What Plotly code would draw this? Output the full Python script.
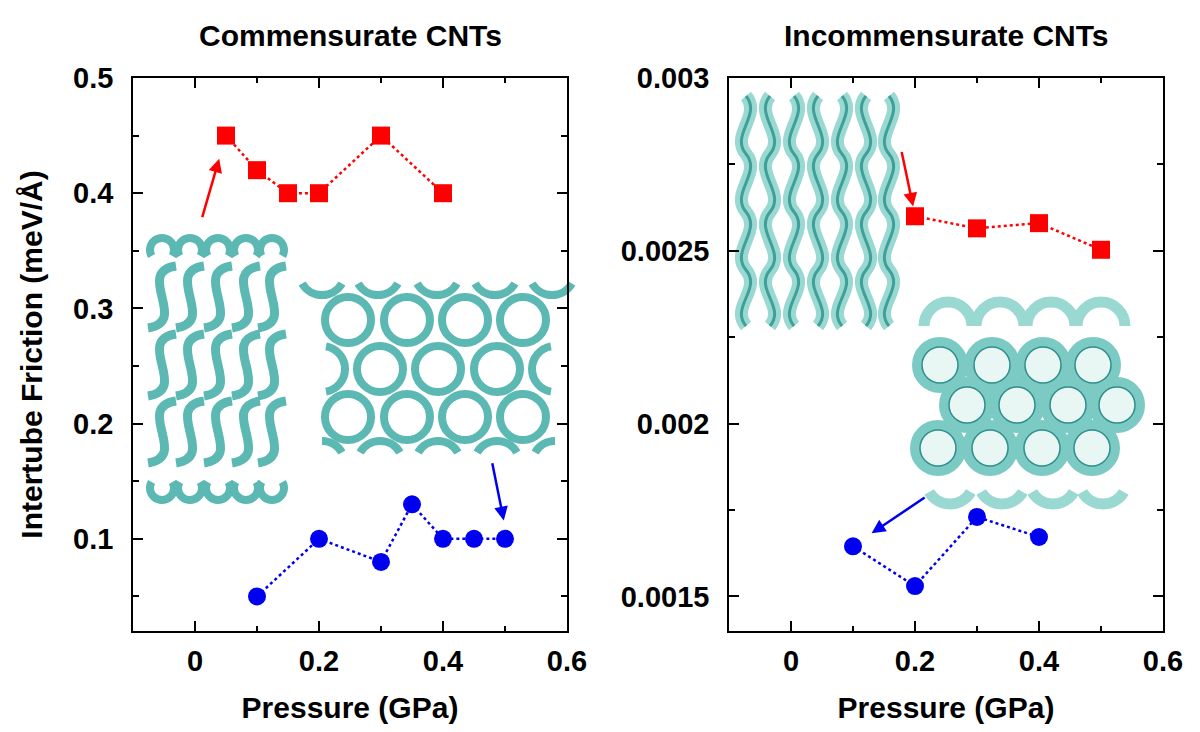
import math
from plotly.subplots import make_subplots
import plotly.graph_objects as go

# ---- data ----
comm_sq_p = [0.05, 0.1, 0.15, 0.2, 0.3, 0.4]
comm_sq_f = [0.45, 0.42, 0.40, 0.40, 0.45, 0.40]
comm_ci_p = [0.1, 0.2, 0.3, 0.35, 0.4, 0.45, 0.5]
comm_ci_f = [0.05, 0.10, 0.08, 0.13, 0.10, 0.10, 0.10]

inc_sq_p = [0.2, 0.3, 0.4, 0.5]
inc_sq_f = [0.00260, 0.002565, 0.00258, 0.002503]
inc_ci_p = [0.1, 0.2, 0.3, 0.4]
inc_ci_f = [0.001645, 0.00153, 0.00173, 0.001672]

panel_titles = ["Commensurate CNTs", "Incommensurate CNTs"]
x_title = "Pressure (GPa)"
y_title = "Intertube Friction (meV/Å)"

RED = "#ff0000"
BLUE = "#0000f0"
TEAL = "#5cb8b2"
FONT = "Liberation Sans"

# ---- page geometry (pixels); the page body adds an 8px margin ----
OFF = 8
W, H = 1200 - OFF, 732 - OFF
ML, MR, MT, MB = 133 - OFF, 37, 78 - OFF, 101
PANEL_X0 = {"x": 133, "x2": 729}
PW, PH = 434, 553
PBOT = 78 + PH

fig = make_subplots(rows=1, cols=2)

fig.add_trace(go.Scatter(x=comm_sq_p, y=comm_sq_f, mode="lines+markers",
                         line=dict(color=RED, width=2.5, dash="dot"),
                         marker=dict(symbol="square", size=18, color=RED)), 1, 1)
fig.add_trace(go.Scatter(x=comm_ci_p, y=comm_ci_f, mode="lines+markers",
                         line=dict(color=BLUE, width=2.5, dash="dot"),
                         marker=dict(symbol="circle", size=18, color=BLUE)), 1, 1)
fig.add_trace(go.Scatter(x=inc_sq_p, y=inc_sq_f, mode="lines+markers",
                         line=dict(color=RED, width=2.5, dash="dot"),
                         marker=dict(symbol="square", size=18, color=RED)), 1, 2)
fig.add_trace(go.Scatter(x=inc_ci_p, y=inc_ci_f, mode="lines+markers",
                         line=dict(color=BLUE, width=2.5, dash="dot"),
                         marker=dict(symbol="circle", size=18, color=BLUE)), 1, 2)


# ---- sketched nanotube insets (drawn in pixel space, mapped to axis domain) ----
def to_dom(ax, px, py):
    return (px - PANEL_X0[ax]) / PW, (PBOT - py) / PH


def arc_pts(cx, cy, r, a0, a1):
    # cubic bezier pieces of a circular arc, angles in degrees, y pointing down
    n = max(1, int(math.ceil(abs(a1 - a0) / 90.0)))
    step = math.radians((a1 - a0) / n)
    k = 4.0 / 3.0 * math.tan(step / 4.0)
    a = math.radians(a0)
    segs = []
    for _ in range(n):
        b = a + step
        p0 = (cx + r * math.cos(a), cy + r * math.sin(a))
        p3 = (cx + r * math.cos(b), cy + r * math.sin(b))
        c1 = (p0[0] - k * r * math.sin(a), p0[1] + k * r * math.cos(a))
        c2 = (p3[0] + k * r * math.sin(b), p3[1] - k * r * math.cos(b))
        segs.append((p0, c1, c2, p3))
        a = b
    return segs


def bez_path(ax, segs, close=False):
    def f(p):
        x, y = to_dom(ax, *p)
        return "%.4f,%.4f" % (x, y)
    s = "M" + f(segs[0][0])
    for p0, c1, c2, p3 in segs:
        s += " C" + f(c1) + " " + f(c2) + " " + f(p3)
    if close:
        s += " Z"
    return s


shapes = []


def add_path(ax, segs, color=TEAL, width=7, fill=None, close=False):
    d = dict(type="path", path=bez_path(ax, segs, close), xref=ax + " domain",
             yref=ax.replace("x", "y") + " domain", layer="below",
             line=dict(color=color, width=width))
    if fill:
        d["fillcolor"] = fill
    shapes.append(d)


# left panel, tube lattice seen end-on
for cy, xs in [(320, [348, 407, 465, 523]), (417, [348, 407, 465, 523])]:
    for cx in xs:
        add_path("x", arc_pts(cx, cy, 23, 0, 360), width=8)
for cx in [380, 438, 497]:
    add_path("x", arc_pts(cx, 369, 23, 0, 360), width=8)
add_path("x", arc_pts(322, 369, 23, -80, 80), width=8)
add_path("x", arc_pts(555, 369, 23, 100, 260), width=8)
for cx in [322, 378, 437, 495, 552]:
    add_path("x", arc_pts(cx, 272, 23, 30, 150), width=8)
for cx in [380, 438, 497]:
    add_path("x", arc_pts(cx, 464, 23, 210, 330), width=8)
add_path("x", arc_pts(322, 464, 23, 270, 330), width=8)
add_path("x", arc_pts(555, 464, 23, 210, 270), width=8)

# left panel, twisted tubes
for ry in [266, 334, 401]:
    for cx in [148, 176, 204, 232, 258]:
        w, h = 28, 62
        p0 = (cx, ry + h)
        p3 = (cx + w, ry)
        c1 = (cx + w * 1.5, ry + h * 0.9)
        c2 = (cx - w * 0.5, ry + h * 0.1)
        add_path("x", [(p0, c1, c2, p3)], width=9)
for cx in [162, 190, 218, 246, 272]:
    add_path("x", arc_pts(cx, 250, 12, 150, 390), width=8)
    add_path("x", arc_pts(cx, 488, 12, -30, 210), width=8)

# right panel, twisted tubes (wavy columns)
for i, cx in enumerate([746, 770, 794, 818, 842, 866, 889]):
    segs = []
    y = 96
    amp = 10 if i % 2 == 0 else -10
    while y < 322:
        y2 = min(y + 58, 326)
        segs.append(((cx, y), (cx + amp * 1.6, y + 19), (cx - amp * 1.6, y2 - 19), (cx, y2)))
        y = y2
    add_path("x2", segs, color="#9ad8d2", width=13)
    add_path("x2", segs, color="#3f9f99", width=3)

# right panel, tube lattice in perspective
for cx in [940, 992, 1043, 1093]:
    add_path("x2", arc_pts(cx + 8, 326, 24, 180, 360), color="#9ad8d2", width=11)
for cy, xs in [(365, [940, 992, 1043, 1093]), (405, [967, 1017, 1068, 1117]),
               (448, [938, 990, 1042, 1092])]:
    for cx in xs:
        add_path("x2", arc_pts(cx, cy, 23, 0, 360), color="#7ccac4", width=10,
                 fill="#e8f6f4", close=True)
        add_path("x2", arc_pts(cx, cy, 18, 0, 360), color="#2f8f8a", width=1.5)
for cx in [940, 992, 1043, 1093]:
    add_path("x2", arc_pts(cx + 10, 480, 24, 30, 150), color="#9ad8d2", width=11)

# ---- arrows ----
arrows = [
    ("x", "y", 0.011, 0.378, 0.039, 0.430, RED),
    ("x", "y", 0.479, 0.167, 0.498, 0.116, BLUE),
    ("x2", "y2", 0.178, 0.00279, 0.197, 0.002628, RED),
    ("x2", "y2", 0.218, 0.001789, 0.130, 0.001683, BLUE),
]
annotations = []
for xr, yr, tx, ty, hx, hy, col in arrows:
    annotations.append(dict(x=hx, y=hy, ax=tx, ay=ty, xref=xr, yref=yr, axref=xr, ayref=yr,
                            text="", showarrow=True, arrowhead=2, arrowsize=1.1,
                            arrowwidth=2.5, arrowcolor=col))

for i, t in enumerate(panel_titles):
    xc = ((0 if i == 0 else 596) + PW / 2) / 1030
    annotations.append(dict(text=t, x=xc, y=(PBOT - 35) / PH, xref="paper", yref="paper",
                            xanchor="center", yanchor="middle", showarrow=False,
                            font=dict(family=FONT, size=30, color="black", weight="bold")))

axis_common = dict(showline=True, linecolor="black", linewidth=1.5, mirror="ticks",
                   ticks="inside", ticklen=10, tickwidth=1.5, tickcolor="black",
                   showgrid=False, zeroline=False, automargin=False,
                   tickfont=dict(family=FONT, size=29, color="black", weight="bold"))
title_font = dict(family=FONT, size=30, color="black", weight="bold")

fig.update_xaxes(axis_common, range=[-0.1, 0.6], dtick=0.2, tick0=0, ticklabelstandoff=3,
                 minor=dict(dtick=0.1, ticks="inside", ticklen=5, tickwidth=1.5, tickcolor="black"),
                 title=dict(text=x_title, font=title_font, standoff=21))
fig.update_xaxes(domain=[0, PW / 1030], row=1, col=1)
fig.update_xaxes(domain=[(729 - 133) / 1030, 1], row=1, col=2)

fig.update_yaxes(axis_common, row=1, col=1, range=[0.02, 0.5], dtick=0.1, tick0=0,
                 ticklabelstandoff=12,
                 minor=dict(dtick=0.05, ticks="inside", ticklen=6, tickwidth=1.5, tickcolor="black"),
                 title=dict(text=y_title, font=title_font, standoff=22))
fig.update_yaxes(axis_common, row=1, col=2, range=[0.0014, 0.003], dtick=0.0005, tick0=0,
                 tickformat="~g", ticklabelstandoff=12,
                 minor=dict(dtick=0.00025, ticks="inside", ticklen=6, tickwidth=1.5, tickcolor="black"))

fig.update_layout(width=W, height=H, showlegend=False,
                  margin=dict(l=ML, r=MR, t=MT, b=MB),
                  paper_bgcolor="white", plot_bgcolor="white",
                  shapes=shapes, annotations=annotations)

fig.write_html("out.html")
